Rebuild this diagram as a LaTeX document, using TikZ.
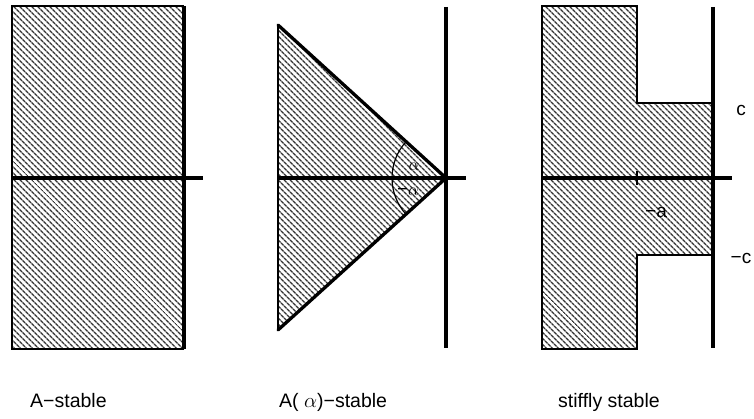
\documentclass[tikz,border=0pt]{standalone}
\usepackage{fontspec}
\setmainfont{Liberation Sans}
\usetikzlibrary{patterns.meta}
\begin{document}
\begin{tikzpicture}[x=1pt,y=-1pt,
  hatch/.style={pattern={Lines[angle=-45,distance=4pt,line width=1.4pt]},pattern color=black!80},
  thinedge/.style={line width=1.7pt},
  axis/.style={line width=3.3pt},
  lbl/.style={font=\fontsize{19.5}{21}\selectfont,anchor=base west,inner sep=0pt},
  small/.style={font=\fontsize{19}{21}\selectfont,inner sep=0pt}]
\useasboundingbox (0,0) rectangle (754,419);
% Panel 1
\fill[hatch] (12,6) rectangle (184,349);
\draw[thinedge] (184,6) -- (12,6) -- (12,349) -- (184,349);
\draw[axis] (184,6) -- (184,349);
\draw[axis] (12,178) -- (203,178);
\node[lbl] (l1) at (30,407) {A−stable};
% Panel 2
\coordinate (apex) at (446,178);
\coordinate (tl) at (278,25);
\coordinate (bl) at (278,330);
\fill[hatch] (tl) -- (apex) -- (bl) -- cycle;
\draw[thinedge] (tl) -- (bl);
\draw[axis,line cap=round] (tl) -- (apex) -- (bl);
\draw[axis] (446,7) -- (446,348);
\draw[axis] (278,178) -- (466,178);
\draw[line width=1.2pt] (apex) ++(137.7:54pt) arc[start angle=137.7,end angle=222.3,radius=54pt];
\node[small] (a1) at (414,167) {$\alpha$};
\node[small] (a2) at (408,192) {−$\alpha$};
\node[lbl] (l2) at (279,407) {A( $\alpha$)−stable};
% Panel 3
\fill[hatch] (713,103) -- (637,103) -- (637,6) -- (542,6) -- (542,349) -- (637,349) -- (637,255) -- (713,255) -- cycle;
\draw[thinedge] (713,103) -- (637,103) -- (637,6) -- (542,6) -- (542,349) -- (637,349) -- (637,255) -- (713,255);
\draw[axis] (713,7) -- (713,348);
\draw[axis] (542,178) -- (732,178);
\draw[line width=1.2pt] (637,171) -- (637,185);
\node[small] (c) at (741,110) {c};
\node[small] (mc) at (741,258) {−c};
\node[small] (ma) at (656,212) {−a};
\node[lbl] (l3) at (558,407) {stiffly stable};
\end{tikzpicture}
\end{document}
